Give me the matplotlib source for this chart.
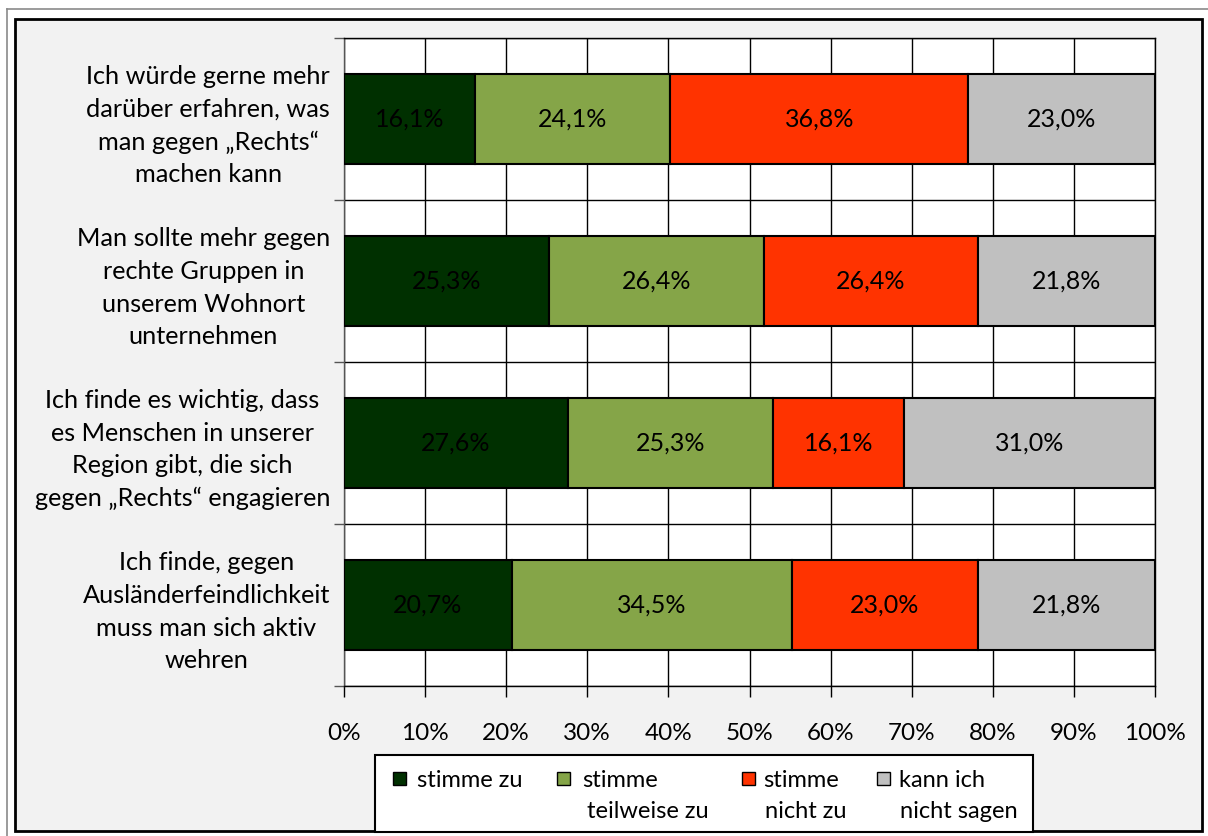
import matplotlib
matplotlib.use("Agg")
import matplotlib.pyplot as plt
from matplotlib.patches import Rectangle
from matplotlib.lines import Line2D
import numpy as np

plt.rcParams['font.family'] = ['Lato', 'DejaVu Sans']

categories = [
    "Ich würde gerne mehr\ndarüber erfahren, was\nman gegen „Rechts“\nmachen kann",
    "Man sollte mehr gegen\nrechte Gruppen in\nunserem Wohnort\nunternehmen",
    "Ich finde es wichtig, dass\nes Menschen in unserer\nRegion gibt, die sich\ngegen „Rechts“ engagieren",
    "Ich finde, gegen\nAusländerfeindlichkeit\nmuss man sich aktiv\nwehren",
]
series_names = ["stimme zu", "stimme\nteilweise zu", "stimme\nnicht zu", "kann ich\nnicht sagen"]
stimme_zu = [16.1, 25.3, 27.6, 20.7]
teilweise = [24.1, 26.4, 25.3, 34.5]
nicht_zu = [36.8, 26.4, 16.1, 23.0]
kann_nicht = [23.0, 21.8, 31.0, 21.8]
xticks = [0, 10, 20, 30, 40, 50, 60, 70, 80, 90, 100]
xtick_labels = [f"{t}%" for t in xticks]

colors = ["#003000", "#85a548", "#ff3300", "#c0c0c0"]

W, H = 1208, 836
fig = plt.figure(figsize=(W / 100, H / 100), dpi=100)
fig.patch.set_facecolor("white")

def fx(px):
    return px / W

def fy(py):
    return 1 - py / H

# outer grey frame lines
fig.add_artist(Line2D([fx(6.5), fx(6.5)], [fy(8.5), fy(836)], color="#8a8a8a", lw=1.2))
fig.add_artist(Line2D([fx(6.5), fx(1208)], [fy(8.5), fy(8.5)], color="#8a8a8a", lw=1.2))
# chart area frame
fig.add_artist(Rectangle((fx(15), fy(831)), fx(1202) - fx(15), fy(19) - fy(831),
                         facecolor="#f2f2f2", edgecolor="black", lw=2, zorder=0))

ax = fig.add_axes([fx(344), fy(686), fx(1155) - fx(344), fy(38) - fy(686)])
ax.set_facecolor("white")
ax.set_zorder(1)

series = [stimme_zu, teilweise, nicht_zu, kann_nicht]
totals = np.sum(np.array(series), axis=0)
y = np.arange(len(categories))
left = np.zeros(len(categories))
for vals, col in zip(series, colors):
    v = np.array(vals) / totals * 100
    ax.barh(y, v, left=left, height=0.55, color=col, edgecolor="black", lw=1.5, zorder=3)
    for yi, (l, w, raw) in enumerate(zip(left, v, vals)):
        ax.text(l + w / 2, yi, f"{raw:.1f}%".replace(".", ","), ha="center", va="center",
                fontsize=18, color="black", zorder=4)
    left = left + v

ax.set_xlim(0, 100)
ax.set_ylim(len(categories) - 0.5, -0.5)
ax.set_xticks(xticks)
ax.set_xticklabels(xtick_labels, fontsize=17.5)
ax.set_yticks(y)
ax.set_yticklabels(categories, fontsize=18.2, multialignment="center", linespacing=1.5)
ax.set_yticks(np.arange(-0.5, len(categories), 1.0), minor=True)
ax.tick_params(axis="y", which="major", length=0, pad=10)
ax.tick_params(axis="y", which="minor", length=7, width=1, color="#555555", direction="out")
ax.tick_params(axis="x", which="major", length=8, width=1, color="black", direction="out", pad=19)
ax.grid(axis="x", which="major", color="black", lw=1)
ax.grid(axis="y", which="minor", color="black", lw=1)
ax.set_axisbelow(True)
for s in ax.spines.values():
    s.set_color("black")
    s.set_linewidth(1)
ax.spines["left"].set_color("#555555")

# legend
fig.add_artist(Rectangle((fx(375), fy(832)), fx(1033) - fx(375), fy(755) - fy(832),
                         facecolor="white", edgecolor="black", lw=1.5, zorder=5))
sq_x = [393, 557, 742, 877]
tx_x = [[417], [582, 587], [763, 765], [899, 900]]
for name, col, sx, txs in zip(series_names, colors, sq_x, tx_x):
    fig.add_artist(Rectangle((fx(sx), fy(785)), fx(13), 13 / H, facecolor=col,
                             edgecolor="black", lw=1, zorder=6))
    lines = name.split("\n")
    for i, line in enumerate(lines):
        fig.text(fx(txs[i]), fy(787 + 31 * i), line, ha="left", va="baseline",
                 fontsize=17, zorder=7)

fig.savefig("out.png", dpi=100, facecolor=fig.get_facecolor())
